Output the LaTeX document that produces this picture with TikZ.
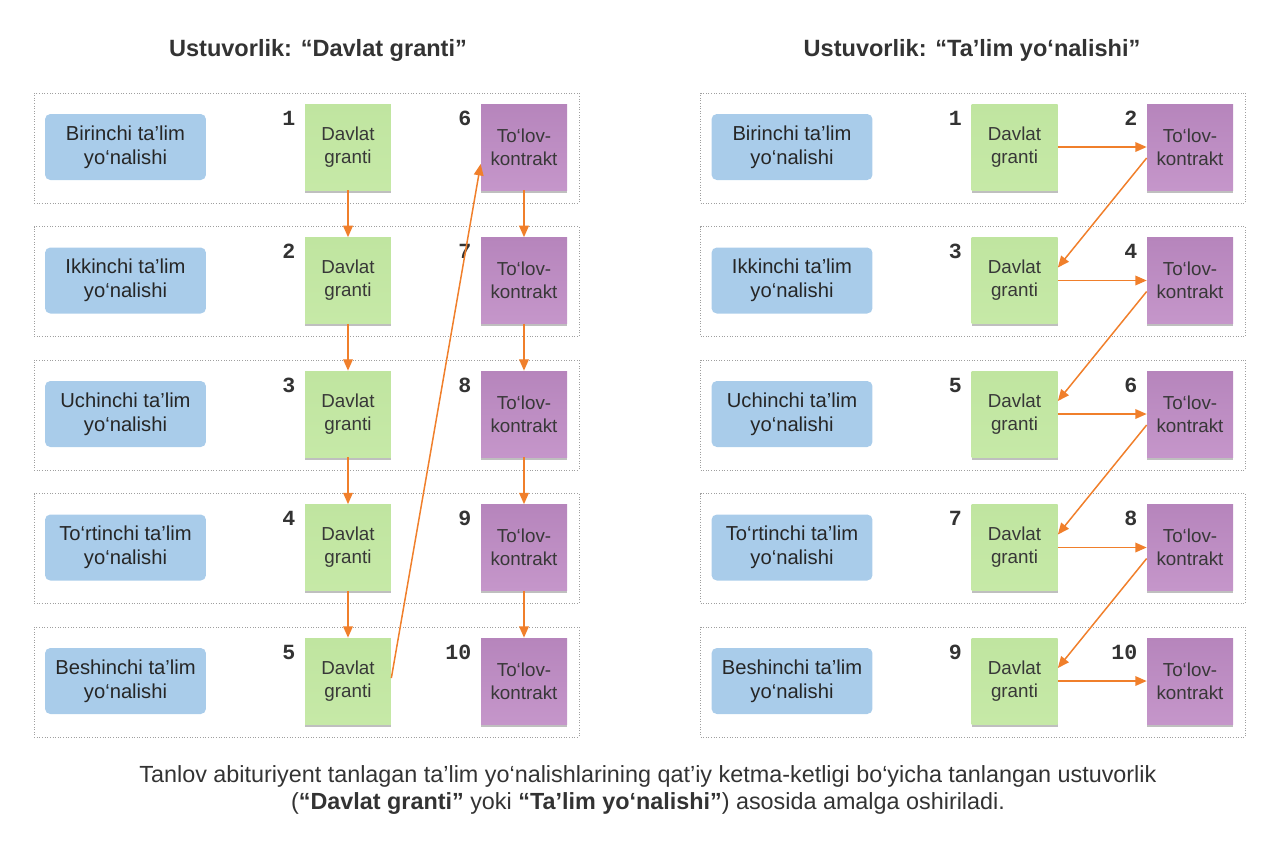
\documentclass[tikz,border=0pt]{standalone}
\usepackage{fontspec}
\setmainfont{Liberation Sans}
\newfontfamily\numfont{Liberation Mono}
\usepackage{tikz}
\usetikzlibrary{arrows.meta}
\usetikzlibrary{shadows}
\usetikzlibrary{calc}

\definecolor{dirblue}{HTML}{A9CCEA}
\definecolor{grantgreen}{HTML}{C6E9A7}
\definecolor{grantgreentop}{HTML}{C0E5A0}
\definecolor{payviolet}{HTML}{C596CA}
\definecolor{payviolettop}{HTML}{B685BC}
\definecolor{linkorange}{HTML}{F07F2B}
\definecolor{inkgray}{HTML}{333333}

\begin{document}
\begin{tikzpicture}[x=0.02cm, y=-0.02cm,
  rowbox/.style={draw=gray!75, densely dotted, line width=0.5pt, minimum width=10.9cm, minimum height=2.2cm, inner sep=0pt},
  dirbox/.style={fill=dirblue, rounded corners=3pt, minimum width=3.22cm, minimum height=1.32cm, align=center, font=\fontsize{11.5}{13.6}\selectfont, text=black!85},
  sticky/.style={minimum width=1.72cm, minimum height=1.72cm, align=center, font=\fontsize{10.7}{13}\selectfont, text=black!78,
    drop shadow={shadow xshift=0pt, shadow yshift=-1.6pt, opacity=0.25, fill=black}},
  grant/.style={sticky, top color=grantgreentop, bottom color=grantgreen},
  pay/.style={sticky, top color=payviolettop, bottom color=payviolet},
  numlabel/.style={anchor=north east, inner sep=0pt, font=\numfont\bfseries\fontsize{12.3}{12}\selectfont, text=inkgray},
  link/.style={draw=linkorange, line width=0.85pt, -{Triangle[length=6.5pt, width=5.5pt]}},
  title/.style={font=\bfseries\fontsize{13.4}{16}\selectfont, text=inkgray}
]
\useasboundingbox (0,0) rectangle (1280,867);

% titles
\node[title] (titleL) at (318,50) {Ustuvorlik: “Davlat granti”};
\node[title] (titleR) at (972,50) {Ustuvorlik: “Ta’lim yo‘nalishi”};

% rows of both panels
\foreach \r/\name in {1/Birinchi, 2/Ikkinchi, 3/Uchinchi, 4/To‘rtinchi, 5/Beshinchi} {
  \pgfmathsetmacro{\ry}{148+133.5*(\r-1)}
  \pgfmathtruncatemacro{\pn}{\r+5}
  \pgfmathtruncatemacro{\gn}{2*\r-1}
  \pgfmathtruncatemacro{\qn}{2*\r}
  % left panel
  \node[rowbox] (Lrow\r) at (306.5,\ry) {};
  \node[dirbox] (Ldir\r) at (125.5,\ry-1) {\name{} ta’lim\\yo‘nalishi};
  \node[grant] (Lg\r) at (348,\ry-1) {Davlat\\granti};
  \node[pay] (Lp\r) at (524,\ry-1) {To‘lov-\\kontrakt};
  \node[numlabel] (Lgn\r) at ($(Lg\r.north west)+(-9,7)$) {\r};
  \node[numlabel] (Lpn\r) at ($(Lp\r.north west)+(-9,7)$) {\pn};
  % right panel
  \node[rowbox] (Rrow\r) at (973,\ry) {};
  \node[dirbox] (Rdir\r) at (792,\ry-1) {\name{} ta’lim\\yo‘nalishi};
  \node[grant] (Rg\r) at (1014.5,\ry-1) {Davlat\\granti};
  \node[pay] (Rp\r) at (1190,\ry-1) {To‘lov-\\kontrakt};
  \node[numlabel] (Rgn\r) at ($(Rg\r.north west)+(-9,7)$) {\gn};
  \node[numlabel] (Rpn\r) at ($(Rp\r.north west)+(-9,7)$) {\qn};
}

% left: grants first, then contracts
\foreach \r [evaluate=\r as \s using int(\r+1)] in {1,...,4} {
  \draw[link] (Lg\r) -- (Lg\s);
  \draw[link] (Lp\r) -- (Lp\s);
}
\draw[link] ([yshift=0.06cm]Lg5.east) -- ([yshift=-0.34cm]Lp1.west);

% right: row by row
\foreach \r in {1,...,5} {
  \draw[link] (Rg\r) -- (Rp\r);
}
\foreach \r [evaluate=\r as \s using int(\r+1)] in {1,...,4} {
  \draw[link] ([yshift=-0.22cm]Rp\r.west) -- ([yshift=0.26cm]Rg\s.east);
}

% caption
\node[align=center, font=\fontsize{13.3}{15.4}\selectfont, text=inkgray] (caption) at (648,790)
  {Tanlov abituriyent tanlagan ta’lim yo‘nalishlarining qat’iy ketma-ketligi bo‘yicha tanlangan ustuvorlik\\
   (\textbf{“Davlat granti”} yoki \textbf{“Ta’lim yo‘nalishi”}) asosida amalga oshiriladi.};
\end{tikzpicture}
\end{document}
